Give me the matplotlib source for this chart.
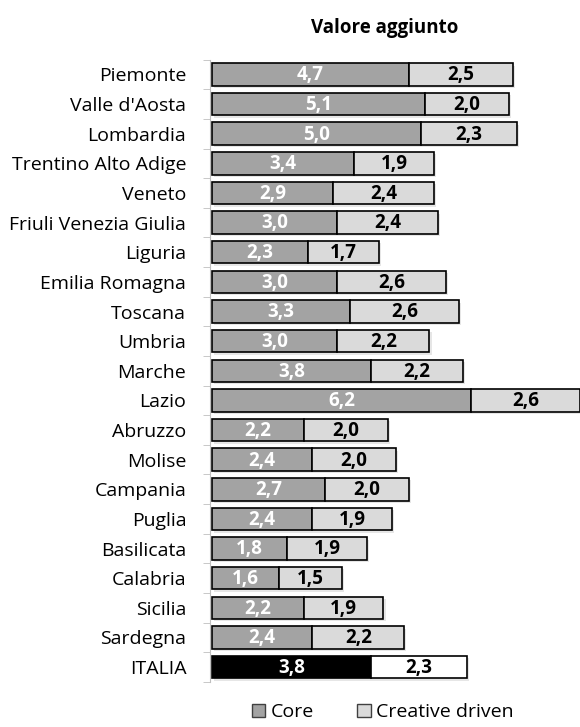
import matplotlib.pyplot as plt
from matplotlib.patches import Patch
import numpy as np

plt.rcParams['font.family'] = ['Open Sans', 'DejaVu Sans']

regioni = ["Piemonte", "Valle d'Aosta", "Lombardia", "Trentino Alto Adige", "Veneto",
           "Friuli Venezia Giulia", "Liguria", "Emilia Romagna", "Toscana", "Umbria",
           "Marche", "Lazio", "Abruzzo", "Molise", "Campania", "Puglia", "Basilicata",
           "Calabria", "Sicilia", "Sardegna", "ITALIA"]
core = [4.7, 5.1, 5.0, 3.4, 2.9, 3.0, 2.3, 3.0, 3.3, 3.0, 3.8, 6.2, 2.2, 2.4, 2.7,
        2.4, 1.8, 1.6, 2.2, 2.4, 3.8]
creative = [2.5, 2.0, 2.3, 1.9, 2.4, 2.4, 1.7, 2.6, 2.6, 2.2, 2.2, 2.6, 2.0, 2.0, 2.0,
            1.9, 1.9, 1.5, 1.9, 2.2, 2.3]

n = len(regioni)
y = np.arange(n)
core_col = ['#a3a3a3'] * (n - 1) + ['#000000']
crea_col = ['#dadada'] * (n - 1) + ['#ffffff']

fig = plt.figure(figsize=(5.8, 7.27), dpi=100)
ax = fig.add_axes([0.362, 0.062, 0.638, 0.856])

h = 0.76
# soft shadow
ax.barh(y + 0.08, np.array(core) + np.array(creative), left=0.05, height=h,
        color='#cfcfcf', alpha=0.5, zorder=1)
ax.barh(y, core, height=h, color=core_col, edgecolor='black', linewidth=1.2, zorder=2)
ax.barh(y, creative, left=core, height=h, color=crea_col, edgecolor='black',
        linewidth=1.2, zorder=2)

for i in range(n):
    ax.text(core[i] / 2, y[i] + 0.03, f"{core[i]:.1f}".replace('.', ','), ha='center',
            va='center', color='white', fontsize=13.5, fontweight='bold', zorder=3)
    ax.text(core[i] + creative[i] / 2, y[i] + 0.03, f"{creative[i]:.1f}".replace('.', ','),
            ha='center', va='center', color='black', fontsize=13.5, fontweight='bold',
            zorder=3)

ax.set_xlim(-0.05, 8.8)
ax.set_ylim(n - 0.5, -0.5)
ax.set_yticks(y)
ax.set_yticklabels(regioni, fontsize=14)
ax.tick_params(axis='y', which='major', length=0, pad=17)
ax.set_yticks(np.arange(n + 1) - 0.5, minor=True)
ax.tick_params(axis='y', which='minor', length=5, color='#bfbfbf')
ax.set_xticks([])
for s in ['top', 'right', 'bottom']:
    ax.spines[s].set_visible(False)
ax.spines['left'].set_color('#bfbfbf')

fig.text(0.663, 0.961, "Valore aggiunto", ha='center', va='center', fontsize=13.5,
         fontweight='bold')

handles = [Patch(facecolor='#a3a3a3', edgecolor='#404040', label='Core'),
           Patch(facecolor='#dadada', edgecolor='#404040', label='Creative driven')]
fig.legend(handles=handles, loc='center', bbox_to_anchor=(0.66, 0.02), ncol=2,
           frameon=False, fontsize=14, handlelength=0.7, handleheight=0.7,
           handletextpad=0.3, columnspacing=2.2, borderpad=0.2)

fig.savefig('out.png', dpi=100)
